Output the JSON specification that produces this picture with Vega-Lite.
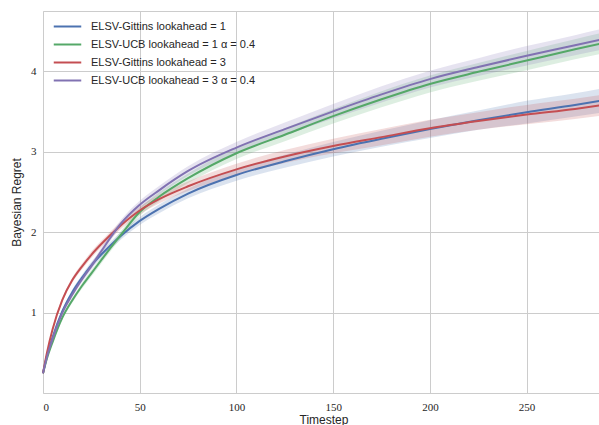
{
  "$schema": "https://vega.github.io/schema/vega-lite/v6.json",
  "width": 561,
  "height": 382,
  "autosize": "none",
  "padding": {"left": 43, "top": 11, "right": 0, "bottom": 32},
  "background": "white",
  "config": {
    "view": {"stroke": "#cccccc", "strokeWidth": 1},
    "axis": {
      "grid": true, "gridColor": "#cccccc", "gridWidth": 1,
      "domain": false, "ticks": false,
      "labelFont": "Liberation Serif", "labelFontSize": 11, "labelColor": "#262626",
      "titleFont": "Liberation Sans", "titleFontSize": 12, "titleFontWeight": "normal", "titleColor": "#262626"
    },
    "legend": {
      "labelFont": "Liberation Sans", "labelFontSize": 11, "labelColor": "#262626", "labelLimit": 0
    }
  },
  "data": {"values": [
    {"t":0,"s":"ELSV-Gittins lookahead = 1","y":0.25,"e":0.01},
    {"t":2,"s":"ELSV-Gittins lookahead = 1","y":0.46,"e":0.015},
    {"t":5,"s":"ELSV-Gittins lookahead = 1","y":0.70,"e":0.02},
    {"t":10,"s":"ELSV-Gittins lookahead = 1","y":1.02,"e":0.025},
    {"t":15,"s":"ELSV-Gittins lookahead = 1","y":1.25,"e":0.03},
    {"t":20,"s":"ELSV-Gittins lookahead = 1","y":1.43,"e":0.035},
    {"t":25,"s":"ELSV-Gittins lookahead = 1","y":1.59,"e":0.04},
    {"t":30,"s":"ELSV-Gittins lookahead = 1","y":1.72,"e":0.04},
    {"t":40,"s":"ELSV-Gittins lookahead = 1","y":1.95,"e":0.045},
    {"t":50,"s":"ELSV-Gittins lookahead = 1","y":2.14,"e":0.05},
    {"t":60,"s":"ELSV-Gittins lookahead = 1","y":2.29,"e":0.055},
    {"t":75,"s":"ELSV-Gittins lookahead = 1","y":2.48,"e":0.06},
    {"t":100,"s":"ELSV-Gittins lookahead = 1","y":2.71,"e":0.07},
    {"t":125,"s":"ELSV-Gittins lookahead = 1","y":2.88,"e":0.08},
    {"t":150,"s":"ELSV-Gittins lookahead = 1","y":3.03,"e":0.09},
    {"t":175,"s":"ELSV-Gittins lookahead = 1","y":3.16,"e":0.10},
    {"t":200,"s":"ELSV-Gittins lookahead = 1","y":3.28,"e":0.11},
    {"t":225,"s":"ELSV-Gittins lookahead = 1","y":3.39,"e":0.12},
    {"t":250,"s":"ELSV-Gittins lookahead = 1","y":3.49,"e":0.14},
    {"t":275,"s":"ELSV-Gittins lookahead = 1","y":3.58,"e":0.145},
    {"t":290,"s":"ELSV-Gittins lookahead = 1","y":3.64,"e":0.15},

    {"t":0,"s":"ELSV-UCB lookahead = 1 α = 0.4","y":0.25,"e":0.01},
    {"t":2,"s":"ELSV-UCB lookahead = 1 α = 0.4","y":0.43,"e":0.015},
    {"t":5,"s":"ELSV-UCB lookahead = 1 α = 0.4","y":0.64,"e":0.02},
    {"t":10,"s":"ELSV-UCB lookahead = 1 α = 0.4","y":0.94,"e":0.025},
    {"t":15,"s":"ELSV-UCB lookahead = 1 α = 0.4","y":1.15,"e":0.03},
    {"t":20,"s":"ELSV-UCB lookahead = 1 α = 0.4","y":1.33,"e":0.035},
    {"t":25,"s":"ELSV-UCB lookahead = 1 α = 0.4","y":1.49,"e":0.04},
    {"t":30,"s":"ELSV-UCB lookahead = 1 α = 0.4","y":1.65,"e":0.04},
    {"t":40,"s":"ELSV-UCB lookahead = 1 α = 0.4","y":1.96,"e":0.045},
    {"t":50,"s":"ELSV-UCB lookahead = 1 α = 0.4","y":2.25,"e":0.05},
    {"t":60,"s":"ELSV-UCB lookahead = 1 α = 0.4","y":2.44,"e":0.055},
    {"t":75,"s":"ELSV-UCB lookahead = 1 α = 0.4","y":2.67,"e":0.06},
    {"t":100,"s":"ELSV-UCB lookahead = 1 α = 0.4","y":2.98,"e":0.07},
    {"t":125,"s":"ELSV-UCB lookahead = 1 α = 0.4","y":3.21,"e":0.08},
    {"t":150,"s":"ELSV-UCB lookahead = 1 α = 0.4","y":3.44,"e":0.09},
    {"t":175,"s":"ELSV-UCB lookahead = 1 α = 0.4","y":3.65,"e":0.10},
    {"t":200,"s":"ELSV-UCB lookahead = 1 α = 0.4","y":3.84,"e":0.105},
    {"t":225,"s":"ELSV-UCB lookahead = 1 α = 0.4","y":3.99,"e":0.11},
    {"t":250,"s":"ELSV-UCB lookahead = 1 α = 0.4","y":4.13,"e":0.12},
    {"t":275,"s":"ELSV-UCB lookahead = 1 α = 0.4","y":4.27,"e":0.125},
    {"t":290,"s":"ELSV-UCB lookahead = 1 α = 0.4","y":4.35,"e":0.13},

    {"t":0,"s":"ELSV-Gittins lookahead = 3","y":0.25,"e":0.01},
    {"t":2,"s":"ELSV-Gittins lookahead = 3","y":0.50,"e":0.015},
    {"t":5,"s":"ELSV-Gittins lookahead = 3","y":0.80,"e":0.02},
    {"t":10,"s":"ELSV-Gittins lookahead = 3","y":1.16,"e":0.025},
    {"t":15,"s":"ELSV-Gittins lookahead = 3","y":1.40,"e":0.03},
    {"t":20,"s":"ELSV-Gittins lookahead = 3","y":1.57,"e":0.035},
    {"t":25,"s":"ELSV-Gittins lookahead = 3","y":1.72,"e":0.04},
    {"t":30,"s":"ELSV-Gittins lookahead = 3","y":1.85,"e":0.04},
    {"t":40,"s":"ELSV-Gittins lookahead = 3","y":2.08,"e":0.045},
    {"t":50,"s":"ELSV-Gittins lookahead = 3","y":2.27,"e":0.05},
    {"t":60,"s":"ELSV-Gittins lookahead = 3","y":2.41,"e":0.055},
    {"t":75,"s":"ELSV-Gittins lookahead = 3","y":2.57,"e":0.06},
    {"t":100,"s":"ELSV-Gittins lookahead = 3","y":2.78,"e":0.07},
    {"t":125,"s":"ELSV-Gittins lookahead = 3","y":2.94,"e":0.08},
    {"t":150,"s":"ELSV-Gittins lookahead = 3","y":3.07,"e":0.09},
    {"t":175,"s":"ELSV-Gittins lookahead = 3","y":3.18,"e":0.10},
    {"t":200,"s":"ELSV-Gittins lookahead = 3","y":3.29,"e":0.105},
    {"t":225,"s":"ELSV-Gittins lookahead = 3","y":3.38,"e":0.11},
    {"t":250,"s":"ELSV-Gittins lookahead = 3","y":3.46,"e":0.12},
    {"t":275,"s":"ELSV-Gittins lookahead = 3","y":3.53,"e":0.125},
    {"t":290,"s":"ELSV-Gittins lookahead = 3","y":3.58,"e":0.13},

    {"t":0,"s":"ELSV-UCB lookahead = 3 α = 0.4","y":0.25,"e":0.01},
    {"t":2,"s":"ELSV-UCB lookahead = 3 α = 0.4","y":0.45,"e":0.015},
    {"t":5,"s":"ELSV-UCB lookahead = 3 α = 0.4","y":0.68,"e":0.02},
    {"t":10,"s":"ELSV-UCB lookahead = 3 α = 0.4","y":1.00,"e":0.025},
    {"t":15,"s":"ELSV-UCB lookahead = 3 α = 0.4","y":1.22,"e":0.03},
    {"t":20,"s":"ELSV-UCB lookahead = 3 α = 0.4","y":1.41,"e":0.035},
    {"t":25,"s":"ELSV-UCB lookahead = 3 α = 0.4","y":1.58,"e":0.04},
    {"t":30,"s":"ELSV-UCB lookahead = 3 α = 0.4","y":1.76,"e":0.04},
    {"t":40,"s":"ELSV-UCB lookahead = 3 α = 0.4","y":2.10,"e":0.045},
    {"t":50,"s":"ELSV-UCB lookahead = 3 α = 0.4","y":2.34,"e":0.05},
    {"t":60,"s":"ELSV-UCB lookahead = 3 α = 0.4","y":2.52,"e":0.055},
    {"t":75,"s":"ELSV-UCB lookahead = 3 α = 0.4","y":2.76,"e":0.06},
    {"t":100,"s":"ELSV-UCB lookahead = 3 α = 0.4","y":3.05,"e":0.07},
    {"t":125,"s":"ELSV-UCB lookahead = 3 α = 0.4","y":3.28,"e":0.08},
    {"t":150,"s":"ELSV-UCB lookahead = 3 α = 0.4","y":3.50,"e":0.09},
    {"t":175,"s":"ELSV-UCB lookahead = 3 α = 0.4","y":3.71,"e":0.10},
    {"t":200,"s":"ELSV-UCB lookahead = 3 α = 0.4","y":3.90,"e":0.105},
    {"t":225,"s":"ELSV-UCB lookahead = 3 α = 0.4","y":4.05,"e":0.11},
    {"t":250,"s":"ELSV-UCB lookahead = 3 α = 0.4","y":4.19,"e":0.12},
    {"t":275,"s":"ELSV-UCB lookahead = 3 α = 0.4","y":4.32,"e":0.125},
    {"t":290,"s":"ELSV-UCB lookahead = 3 α = 0.4","y":4.40,"e":0.13}
  ]},
  "encoding": {
    "x": {"field": "t", "type": "quantitative", "title": "Timestep",
      "scale": {"domain": [0, 290], "nice": false, "zero": false},
      "axis": {"values": [0, 50, 100, 150, 200, 250], "labelPadding": 8, "titlePadding": 2}},
    "color": {"field": "s", "type": "nominal", "title": null,
      "scale": {"domain": ["ELSV-Gittins lookahead = 1", "ELSV-UCB lookahead = 1 α = 0.4", "ELSV-Gittins lookahead = 3", "ELSV-UCB lookahead = 3 α = 0.4"],
        "range": ["#4C72B0", "#55A868", "#C44E52", "#8172B2"]},
      "legend": {"orient": "none", "legendX": 18, "legendY": 9, "padding": 0,
        "symbolType": "M-2.5,0H2.5", "symbolSize": 121, "symbolStrokeWidth": 2,
        "symbolOpacity": 1, "labelOffset": 17, "rowPadding": 6, "labelLimit": 0}}
  },
  "layer": [
    {
      "mark": {"type": "errorband", "interpolate": "monotone", "band": {"opacity": 0.2}},
      "encoding": {
        "y": {"field": "y", "type": "quantitative", "title": "Bayesian Regret",
          "scale": {"domain": [0.005, 4.745], "nice": false, "zero": false},
          "axis": {"values": [1, 2, 3, 4], "format": "d", "labelPadding": 7, "titlePadding": 7}},
        "yError": {"field": "e"}
      }
    },
    {
      "mark": {"type": "line", "interpolate": "monotone", "strokeWidth": 2},
      "encoding": {
        "y": {"field": "y", "type": "quantitative"}
      }
    }
  ]
}
